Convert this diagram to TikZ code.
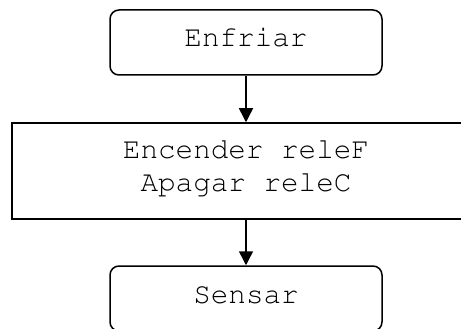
\documentclass[tikz,border=0pt]{standalone}
\usepackage[T1]{fontenc}
\usetikzlibrary{arrows.meta}
\begin{document}
\begin{tikzpicture}[x=1pt,y=-1pt,
  box/.style={draw=black,line width=1.5pt,inner sep=0pt,fill=white},
  rbox/.style={box,rounded corners=9pt},
  txt/.style={font=\fontfamily{pcr}\fontsize{29.3}{33}\selectfont,anchor=base,inner sep=0pt},
  conn/.style={line width=1.5pt,-{Triangle[width=14pt,length=14pt]}}]
\useasboundingbox (0,0) rectangle (461,329);
\clip (0,0) rectangle (461,329);
\node[rbox,minimum width=272pt,minimum height=65pt] (b1) at (246,42.5) {};
\node[txt] (t1) at (246,47) {Enfriar};
\node[box,minimum width=468pt,minimum height=96pt] (b2) at (246,171) {};
\node[txt] (t2a) at (246,158) {Encender releF};
\node[txt] (t2b) at (246,191) {Apagar releC};
\node[rbox,minimum width=272pt,minimum height=65pt] (b3) at (246,298.5) {};
\node[txt] (t3) at (246,303) {Sensar};
\draw[conn] (b1.south) -- (b2.north);
\draw[conn] (b2.south) -- (b3.north);
\end{tikzpicture}
\end{document}
